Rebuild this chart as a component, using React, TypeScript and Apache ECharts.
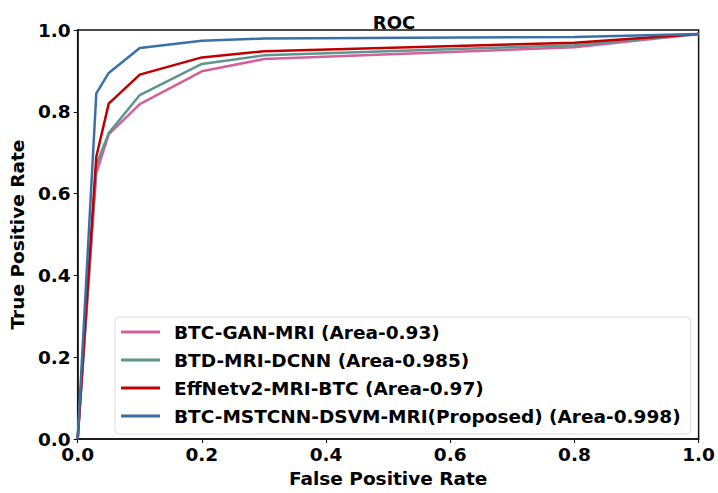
import React, { useEffect, useRef } from "react";
import * as echarts from "echarts";

const fpr = [0, 0.03, 0.05, 0.1, 0.2, 0.3, 0.8, 1.0];
const seriesNames = [
  "BTC-GAN-MRI (Area-0.93)",
  "BTD-MRI-DCNN (Area-0.985)",
  "EffNetv2-MRI-BTC (Area-0.97)",
  "BTC-MSTCNN-DSVM-MRI(Proposed) (Area-0.998)",
];
const tprGan = [0, 0.65, 0.745, 0.819, 0.899, 0.929, 0.958, 0.99];
const tprDcnn = [0, 0.67, 0.748, 0.841, 0.917, 0.938, 0.963, 0.99];
const tprEff = [0, 0.69, 0.82, 0.891, 0.933, 0.948, 0.969, 0.99];
const tprProposed = [0, 0.845, 0.895, 0.956, 0.974, 0.979, 0.983, 0.99];
const colors = ["#d4609a", "#5e9590", "#c00000", "#3b6fa8"];
const allTpr = [tprGan, tprDcnn, tprEff, tprProposed];

const FONT = "DejaVu Sans";
const FS = 18.5;

export default function App() {
  const ref = useRef<HTMLDivElement>(null);
  useEffect(() => {
    if (!ref.current) return;
    const chart = echarts.init(ref.current, undefined, { renderer: "svg" });
    const axisLabel = {
      fontFamily: FONT,
      fontWeight: "bold" as const,
      fontSize: FS,
      color: "#000",
      formatter: (v: number) => v.toFixed(1),
    };
    chart.setOption({
      animation: false,
      backgroundColor: "#fff",
      title: {
        text: "ROC",
        left: 389,
        textAlign: "center",
        top: 8,
        textStyle: { fontFamily: FONT, fontWeight: "bold", fontSize: 18, color: "#000" },
      },
      grid: {
        left: 77,
        right: 16,
        top: 30,
        bottom: 49,
        show: true,
        borderColor: "#111",
        borderWidth: 1.5,
        backgroundColor: "transparent",
      },
      legend: {
        orient: "vertical",
        left: 115,
        top: 317,
        data: seriesNames,
        icon: "rect",
        itemWidth: 39,
        itemHeight: 3,
        itemGap: 6,
        padding: [4, 10, 7, 6],
        backgroundColor: "#fff",
        borderColor: "#dddddd",
        borderWidth: 1,
        borderRadius: 4,
        textStyle: {
          fontFamily: FONT,
          fontWeight: "bold",
          fontSize: FS,
          lineHeight: 22,
          color: "#000",
          padding: [0, 0, 0, 9],
        },
      },
      xAxis: {
        type: "value",
        min: 0,
        max: 1,
        interval: 0.2,
        name: "False Positive Rate",
        nameLocation: "middle",
        nameGap: 29,
        nameTextStyle: { fontFamily: FONT, fontWeight: "bold", fontSize: FS, color: "#000" },
        axisLine: { show: true, lineStyle: { color: "#111", width: 1.5 } },
        axisTick: { show: true, length: 4, lineStyle: { color: "#111" } },
        axisLabel: { ...axisLabel, margin: 6 },
        splitLine: { show: false },
      },
      yAxis: {
        type: "value",
        min: 0,
        max: 1,
        interval: 0.2,
        name: "True Positive Rate",
        nameLocation: "middle",
        nameGap: 43,
        nameTextStyle: { fontFamily: FONT, fontWeight: "bold", fontSize: FS, color: "#000" },
        axisLine: { show: true, lineStyle: { color: "#111", width: 1.5 } },
        axisTick: { show: true, length: 4, lineStyle: { color: "#111" } },
        axisLabel: { ...axisLabel, margin: 7 },
        splitLine: { show: false },
      },
      series: allTpr.map((tpr, i) => ({
        type: "line",
        name: seriesNames[i],
        data: fpr.map((x, j) => [x, tpr[j]]),
        symbol: "none",
        color: colors[i],
        lineStyle: { color: colors[i], width: 2.5 },
        z: 2 + i,
      })),
    });
    return () => chart.dispose();
  }, []);
  return (
    <div
      ref={ref}
      style={{ position: "absolute", left: 0, top: 0, width: 718, height: 493 }}
    />
  );
}
